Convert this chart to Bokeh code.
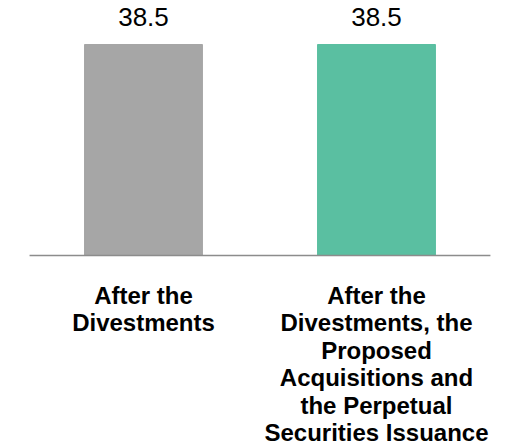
from bokeh.plotting import figure
from bokeh.models import Range1d, ColumnDataSource
from bokeh.core.properties import value
from bokeh.embed import file_html
from bokeh.resources import INLINE

categories = ["After the\nDivestments",
              "After the\nDivestments, the\nProposed\nAcquisitions and\nthe Perpetual\nSecurities Issuance"]
values = [38.5, 38.5]
colors = ["#A6A6A6", "#5ABFA1"]
labels = ["38.5", "38.5"]

xs = [i + 1 for i in range(len(categories))]
src = ColumnDataSource(dict(x=xs, top=values, color=colors, label=labels, cat=categories,
                            zero=[0] * len(xs)))

p = figure(width=515, height=447, output_backend="svg", toolbar_location=None,
           x_range=Range1d(0.3863, 2.5966), y_range=Range1d(-35.03, 46.53),
           min_border=0, min_border_left=0, min_border_right=0, min_border_top=0, min_border_bottom=0)
p.axis.visible = False
p.grid.visible = False
p.outline_line_color = None
p.background_fill_color = "white"
p.border_fill_color = "white"

p.vbar(x="x", top="top", bottom=0, width=0.506, color="color", source=src)
p.segment(x0=[xs[0] - 0.489], x1=[xs[-1] + 0.489], y0=[0], y1=[0], line_color="#8C8C8C", line_width=1.5)

p.text(x="x", y="top", text="label", source=src, text_align="center", text_baseline="alphabetic",
       y_offset=-28, text_font=value("Liberation Sans"), text_font_size="26px", text_color="#000000")
p.text(x="x", y="zero", text="cat", source=src, text_align="center", text_baseline="top",
       y_offset=26, text_font=value("Liberation Sans"), text_font_size="24px", text_font_style="bold",
       text_color="#000000", text_line_height=1.02)

open("out.html", "w").write(file_html(p, INLINE))
